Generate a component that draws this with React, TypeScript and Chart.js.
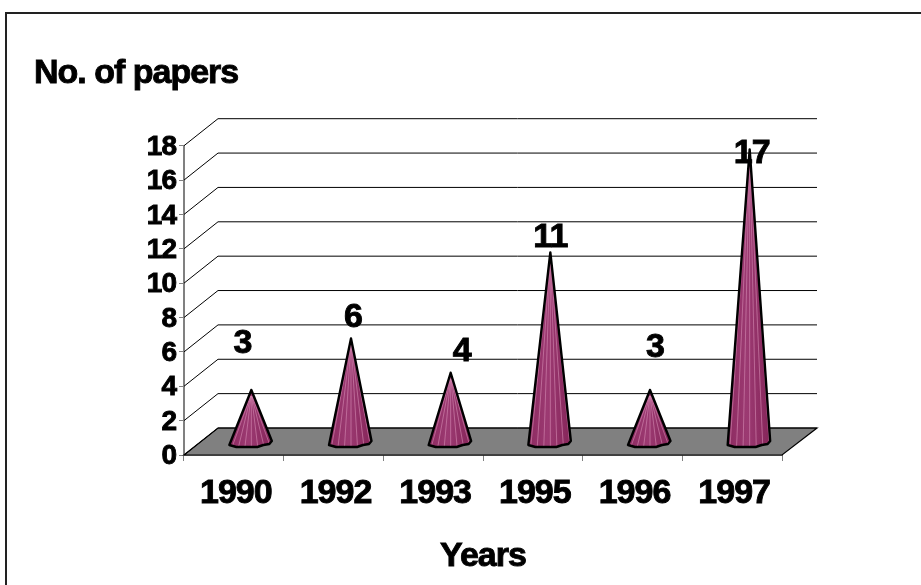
import React, { useEffect, useRef } from "react";
import { Chart, registerables } from "chart.js";

Chart.register(...registerables);

const categories = ["1990", "1992", "1993", "1995", "1996", "1997"];
const paperCounts = [3, 6, 4, 11, 3, 17];
const chartTitle = "No. of papers";
const xTitle = "Years";

const FONT = "'Liberation Sans', Arial, sans-serif";
const DEPTH_X = 34;
const DEPTH_Y = 27;
// Hand-placed data labels in the original: shift from the cone tip to the label centre.
const labelShift: [number, number][] = [[-9, -48], [2, -23], [11, -23], [0, -17], [5, -44], [2, 2]];
// Outline of the cone foot, relative to its centre on the floor.
const foot: [number, number][] = [[-22, 2.5], [-15, 4.5], [6, 4.5], [12, 2.5], [18, 1.5], [20.5, -1.5]];

const heavyTextPlugin = {
  id: "heavyText",
  beforeDraw(chart: any) {
    const ctx = chart.ctx;
    ctx.letterSpacing = "-1px";
    if (!ctx.__heavy) {
      ctx.__heavy = true;
      const fill = ctx.fillText.bind(ctx);
      ctx.fillText = (t: string, x: number, y: number, m?: number) => {
        const lw = ctx.lineWidth;
        const ss = ctx.strokeStyle;
        ctx.lineWidth = 0.9;
        ctx.strokeStyle = ctx.fillStyle;
        ctx.strokeText(t, x, y);
        ctx.lineWidth = lw;
        ctx.strokeStyle = ss;
        if (m === undefined) fill(t, x, y);
        else fill(t, x, y, m);
      };
    }
  },
};

const wallsPlugin = {
  id: "walls",
  beforeDatasetsDraw(chart: any) {
    const { ctx, chartArea, scales } = chart;
    const y = scales.y;
    const base = y.getPixelForValue(0);
    const { left, right } = chartArea;
    ctx.save();
    // outer frame (top and left only)
    ctx.strokeStyle = "#222";
    ctx.lineWidth = 2;
    ctx.beginPath();
    ctx.moveTo(6, 585);
    ctx.lineTo(6, 13);
    ctx.lineTo(921, 13);
    ctx.stroke();
    // floor
    ctx.fillStyle = "#808080";
    ctx.strokeStyle = "#000";
    ctx.lineWidth = 1.2;
    ctx.beginPath();
    ctx.moveTo(left, base);
    ctx.lineTo(right, base);
    ctx.lineTo(right + DEPTH_X + 1, base - DEPTH_Y);
    ctx.lineTo(left + DEPTH_X, base - DEPTH_Y);
    ctx.closePath();
    ctx.fill();
    ctx.stroke();
    // side wall and back wall grid
    ctx.lineWidth = 1;
    ctx.strokeStyle = "#000";
    for (const t of y.ticks) {
      const p = y.getPixelForValue(t.value);
      ctx.beginPath();
      ctx.moveTo(left, p);
      ctx.lineTo(left + DEPTH_X, p - DEPTH_Y);
      ctx.lineTo(right + DEPTH_X + 1, p - DEPTH_Y);
      ctx.stroke();
    }
    ctx.restore();
  },
  afterDatasetsDraw(chart: any) {
    const { ctx, scales } = chart;
    const y = scales.y;
    const meta = chart.getDatasetMeta(0);
    const dx = 17.5;
    const dy = 12.5;
    const floorY = y.getPixelForValue(0) - dy;

    // data labels lie under the cones
    ctx.save();
    ctx.fillStyle = "#000";
    ctx.font = `bold 34px ${FONT}`;
    ctx.textAlign = "center";
    ctx.textBaseline = "middle";
    meta.data.forEach((bar: any, i: number) => {
      const [sx, sy] = labelShift[i];
      ctx.fillText(String(paperCounts[i]), bar.x + dx + sx, bar.y - dy + sy + 1);
    });
    ctx.restore();

    meta.data.forEach((bar: any) => {
      const cx = bar.x + dx;
      const tipY = bar.y - dy - 1;
      const path = () => {
        ctx.beginPath();
        ctx.moveTo(cx, tipY);
        foot.forEach(([fx, fy]) => ctx.lineTo(cx + fx, floorY + fy));
        ctx.closePath();
      };
      ctx.save();
      path();
      ctx.clip();
      const g = ctx.createLinearGradient(cx - 22, 0, cx + 21, 0);
      g.addColorStop(0, "#8c2a60");
      g.addColorStop(0.45, "#9c3a72");
      g.addColorStop(1, "#842458");
      ctx.fillStyle = g;
      ctx.fillRect(cx - 24, tipY - 2, 48, floorY - tipY + 10);
      // fine pale ribs of the cone surface
      ctx.lineWidth = 1;
      ctx.strokeStyle = "rgba(214,140,180,0.6)";
      for (let k = -9; k <= 9; k += 3) {
        ctx.beginPath();
        ctx.moveTo(cx + k * 0.08, tipY + 6);
        ctx.lineTo(cx + k * 2.2, floorY + 6);
        ctx.stroke();
      }
      ctx.restore();
      ctx.save();
      ctx.strokeStyle = "#000";
      ctx.lineWidth = 2.4;
      ctx.lineJoin = "round";
      path();
      ctx.stroke();
      ctx.restore();
    });
  },
};

export default function App() {
  const ref = useRef<HTMLCanvasElement | null>(null);
  useEffect(() => {
    if (!ref.current) return;
    const chart = new Chart(ref.current, {
      type: "bar",
      data: {
        labels: categories,
        datasets: [{ data: paperCounts, backgroundColor: "rgba(0,0,0,0)", borderWidth: 0 }],
      },
      plugins: [heavyTextPlugin, wallsPlugin],
      options: {
        responsive: false,
        animation: false,
        devicePixelRatio: 1,
        layout: { padding: { left: 34, right: 139, top: 0, bottom: 0 } },
        plugins: {
          legend: { display: false },
          tooltip: { enabled: false },
          title: {
            display: true,
            text: chartTitle,
            align: "start",
            color: "#000",
            font: { family: FONT, size: 34, weight: "bold", lineHeight: 1.2 },
            padding: { top: 53, bottom: 51.9 },
          },
        },
        scales: {
          x: {
            type: "category",
            offset: true,
            afterFit: (s: any) => { s.height = 130; },
            border: { display: true, color: "#000", width: 1.5 },
            grid: { offset: true, drawOnChartArea: false, drawTicks: true, tickLength: 6, color: "#808080", lineWidth: 1 },
            ticks: { color: "#000", font: { family: FONT, size: 34, weight: "bold" }, padding: 12, maxRotation: 0, labelOffset: 2, autoSkip: false },
            title: {
              display: true,
              text: xTitle,
              color: "#000",
              font: { family: FONT, size: 34, weight: "bold", lineHeight: 1.2 },
              padding: { top: 0, bottom: 7.6 },
            },
          },
          y: {
            min: 0,
            max: 18,
            afterFit: (s: any) => { s.width = 150; },
            border: { display: true, color: "#808080", width: 2 },
            grid: { drawOnChartArea: false, drawTicks: true, tickLength: 5, color: "#808080", lineWidth: 1 },
            ticks: { stepSize: 2, autoSkip: false, color: "#000", font: { family: FONT, size: 28, weight: "bold" }, padding: 3, labelOffset: 1.5 },
          },
        },
      },
    } as any);
    return () => chart.destroy();
  }, []);
  return (
    <div style={{ position: "absolute", left: 0, top: 0, width: 921, height: 585, background: "#fff" }}>
      <canvas ref={ref} width={921} height={585} style={{ display: "block" }} />
    </div>
  );
}
